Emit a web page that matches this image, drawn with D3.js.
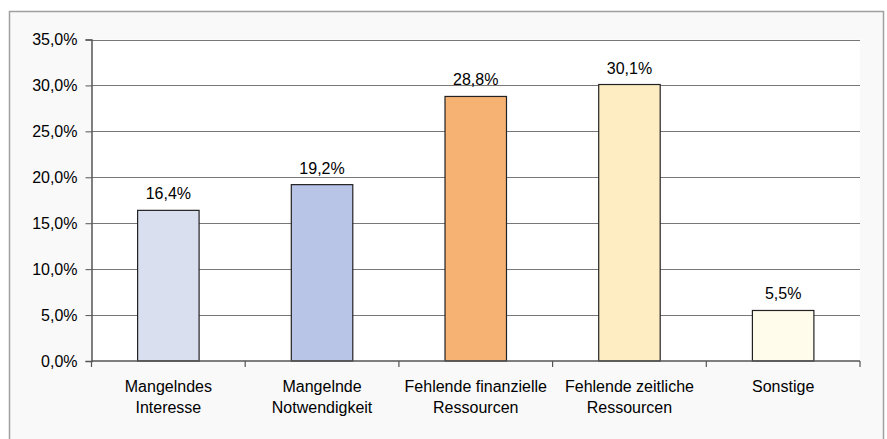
<!DOCTYPE html>
<html><head><meta charset="utf-8">
<script src="https://cdn.jsdelivr.net/npm/d3@7"></script>
<style>body{margin:0;background:#fff}svg{display:block}text{font-family:"Liberation Sans",Arial,sans-serif;font-size:16px;fill:#000}</style>
</head><body><svg id="c" width="887" height="439"></svg>
<script>
const categories = [["Mangelndes","Interesse"],["Mangelnde","Notwendigkeit"],["Fehlende finanzielle","Ressourcen"],["Fehlende zeitliche","Ressourcen"],["Sonstige"]];
const values = [16.4, 19.2, 28.8, 30.1, 5.5];
const colors = ["#dadff0","#b9c5e7","#f5b273","#feedc3","#fffcec"];
const yTicks = [0,5,10,15,20,25,30,35];

const svg = d3.select("#c");
svg.append("rect").attr("x",9.5).attr("y",11.5).attr("width",874).attr("height",440).attr("fill","#f9f9f9").attr("stroke","#a0a0a0").attr("stroke-width",1.5);
const L=91.5, R=860, T=39.5, B=361;
svg.append("rect").attr("x",L).attr("y",T).attr("width",R-L).attr("height",B-T).attr("fill","#fff");
const x = d3.scaleBand().domain(d3.range(values.length)).range([L,R]).paddingInner(0.6).paddingOuter(0.3);
const xb = d3.scaleBand().domain(d3.range(values.length)).range([L,R]);
const y = d3.scaleLinear().domain([0,35]).range([B,T]);
const fmt = v => d3.format(".1f")(v).replace(".",",")+"%";
// gridlines
svg.append("g").selectAll("line").data(yTicks.filter(d=>d>0)).join("line")
  .attr("x1",L).attr("x2",R).attr("y1",d=>Math.round(y(d))+0.5).attr("y2",d=>Math.round(y(d))+0.5)
  .attr("stroke","#777").attr("stroke-width",1);
// y axis
const ya = svg.append("g").attr("transform",`translate(${L},0)`).call(d3.axisLeft(y).tickValues(yTicks).tickFormat(fmt).tickSize(6).tickPadding(8));
ya.select(".domain").attr("stroke","#555").attr("stroke-width",1.5);
ya.selectAll(".tick line").attr("stroke","#555");
ya.selectAll("text").style("font-size","16px").attr("font-family",null).attr("fill","#000");
// bars
svg.append("g").selectAll("rect").data(values).join("rect")
  .attr("x",(d,i)=>x(i)).attr("width",x.bandwidth()).attr("y",d=>y(d)).attr("height",d=>B-y(d))
  .attr("fill",(d,i)=>colors[i]).attr("stroke","#222").attr("stroke-width",1.2);
// labels
svg.append("g").selectAll("text").data(values).join("text")
  .attr("x",(d,i)=>x(i)+x.bandwidth()/2).attr("y",d=>y(d)-11).attr("text-anchor","middle").text(fmt);
// x axis
const xa = svg.append("g").attr("transform",`translate(0,${B})`);
xa.append("line").attr("x1",L).attr("x2",R).attr("stroke","#555").attr("stroke-width",1.5);
xa.selectAll("line.t").data(d3.range(values.length+1)).join("line").attr("class","t")
  .attr("x1",i=>i<values.length?xb(i):R).attr("x2",i=>i<values.length?xb(i):R).attr("y1",0).attr("y2",6).attr("stroke","#555").attr("stroke-width",1.2);
xa.selectAll("text").data(categories).join("text")
  .attr("text-anchor","middle").attr("x",(d,i)=>xb(i)+xb.bandwidth()/2)
  .each(function(d){ d3.select(this).selectAll("tspan").data(d).join("tspan").attr("x",d3.select(this).attr("x")).attr("y",(t,j)=>31+j*21).text(t=>t); });
</script></body></html>
